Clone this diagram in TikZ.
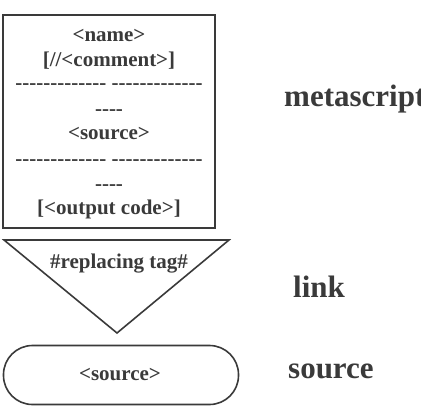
\documentclass[tikz,border=0pt]{standalone}
\usepackage{fontspec}
\setmainfont{Liberation Serif}
\definecolor{ink}{HTML}{3A3A3A}
\newcommand{\hyrow}[1]{\foreach \k in {1,...,#1}{-{}}}
\begin{document}
\begin{tikzpicture}[x=1pt,y=-1pt,
  boxtext/.style={font=\bfseries\fontsize{21}{23}\selectfont,text=ink,anchor=base,inner sep=0pt},
  labeltext/.style={font=\bfseries\fontsize{31}{34}\selectfont,text=ink,anchor=base west,inner sep=0pt},
  shapeline/.style={draw=ink,line width=1.6pt}]
\useasboundingbox (0,0) rectangle (421,408);
% metascript box
\node[shapeline,minimum width=212pt,minimum height=213pt,inner sep=0pt] (meta) at (109,121.5) {};
\node[boxtext] (name) at (109,41) {<name>};
\node[boxtext] (comment) at (109,66) {[//<comment>]};
\node[boxtext] (dashA) at (109,89) {\hyrow{13} \hyrow{13}};
\node[boxtext] (dashB) at (109,115) {\hyrow{4}};
\node[boxtext] (src1) at (109,139) {<source>};
\node[boxtext] (dashC) at (109,165) {\hyrow{13} \hyrow{13}};
\node[boxtext] (dashD) at (109,190) {\hyrow{4}};
\node[boxtext] (outcode) at (109,214) {[<output code>]};
% link triangle
\coordinate (tl) at (4,240);
\coordinate (tr) at (229,240);
\coordinate (ta) at (117,333);
\draw[shapeline,line join=miter] (tl) -- (tr) -- (ta) -- cycle;
\node[boxtext] (tag) at (119,268) {\#replacing tag\#};
% source stadium
\node[shapeline,minimum width=235pt,minimum height=59pt,rounded corners=29pt,inner sep=0pt] (srcbox) at (121,375) {};
\node[boxtext] (src2) at (120,380) {<source>};
% labels
\node[labeltext] (lmeta) at (284,106) {metascript};
\node[labeltext] (llink) at (293,297) {link};
\node[labeltext] (lsrc) at (288,378) {source};
\end{tikzpicture}
\end{document}
